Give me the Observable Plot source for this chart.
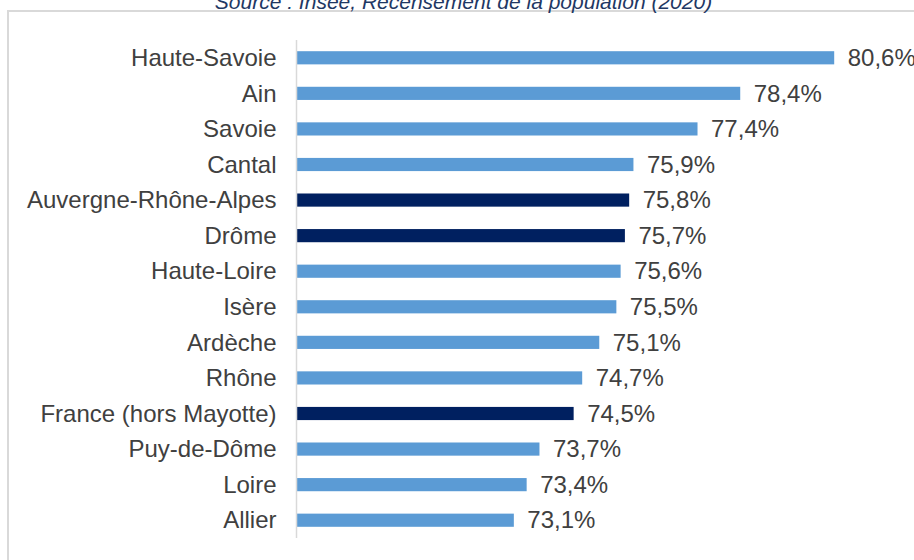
<!DOCTYPE html>
<html>
<head>
<meta charset="utf-8">
<script src="https://cdn.jsdelivr.net/npm/d3@7"></script>
<script src="https://cdn.jsdelivr.net/npm/@observablehq/plot@0.6"></script>
<style>
  html, body { margin: 0; padding: 0; background: #fff; }
  body { width: 914px; height: 560px; overflow: hidden; position: relative; font-family: "Liberation Sans", Arial, sans-serif; }
  #frame { position: absolute; left: 7px; top: 10px; width: 1000px; height: 800px; border: 2px solid #d9d9d9; box-sizing: border-box; }
  #title { position: absolute; left: 0; width: 927px; top: -9px; text-align: center; font-style: italic; font-size: 21px; line-height: 21px; color: #1f3864; white-space: nowrap; }
  #chart { position: absolute; left: 0; top: 0; }
</style>
</head>
<body>
<div id="frame"></div>
<div id="title"></div>
<div id="chart"></div>
<script>
const titleText = "Source : Insee, Recensement de la population (2020)";
const categories = ["Haute-Savoie","Ain","Savoie","Cantal","Auvergne-Rhône-Alpes","Drôme","Haute-Loire","Isère","Ardèche","Rhône","France (hors Mayotte)","Puy-de-Dôme","Loire","Allier"];
const values = [80.6,78.4,77.4,75.9,75.8,75.7,75.6,75.5,75.1,74.7,74.5,73.7,73.4,73.1];
const highlighted = ["Auvergne-Rhône-Alpes","Drôme","France (hors Mayotte)"];
const axisMin = 68;
const axisMax = 82;

const data = categories.map((c, i) => ({category: c, value: values[i], highlight: highlighted.includes(c)}));
const fmt = v => v.toFixed(1).replace(".", ",") + "%";

document.getElementById("title").textContent = titleText;

const chart = Plot.plot({
  width: 914,
  height: 560,
  marginLeft: 296,
  marginRight: 20,
  marginTop: 40,
  marginBottom: 22,
  style: {fontFamily: "'Liberation Sans', Arial, sans-serif", fontSize: "24px", color: "#404040", background: "transparent", overflow: "visible"},
  x: {domain: [axisMin, axisMax], axis: null},
  y: {domain: categories, paddingInner: 0.63, paddingOuter: 0.315, round: false, label: null},
  marks: [
    Plot.barX(data, {x1: axisMin, x2: "value", y: "category", fill: d => d.highlight ? "#002060" : "#5b9bd5", insetLeft: 1}),
    Plot.ruleX([axisMin], {stroke: "#d9d9d9", strokeWidth: 1.5}),
    Plot.axisY({tickSize: 0, tickPadding: 20, label: null, fontSize: 24, fill: "#404040"}),
    Plot.text(data, {x: "value", y: "category", text: d => fmt(d.value), textAnchor: "start", dx: 13, fill: "#404040", fontSize: 24})
  ]
});
document.getElementById("chart").appendChild(chart);
</script>
</body>
</html>
